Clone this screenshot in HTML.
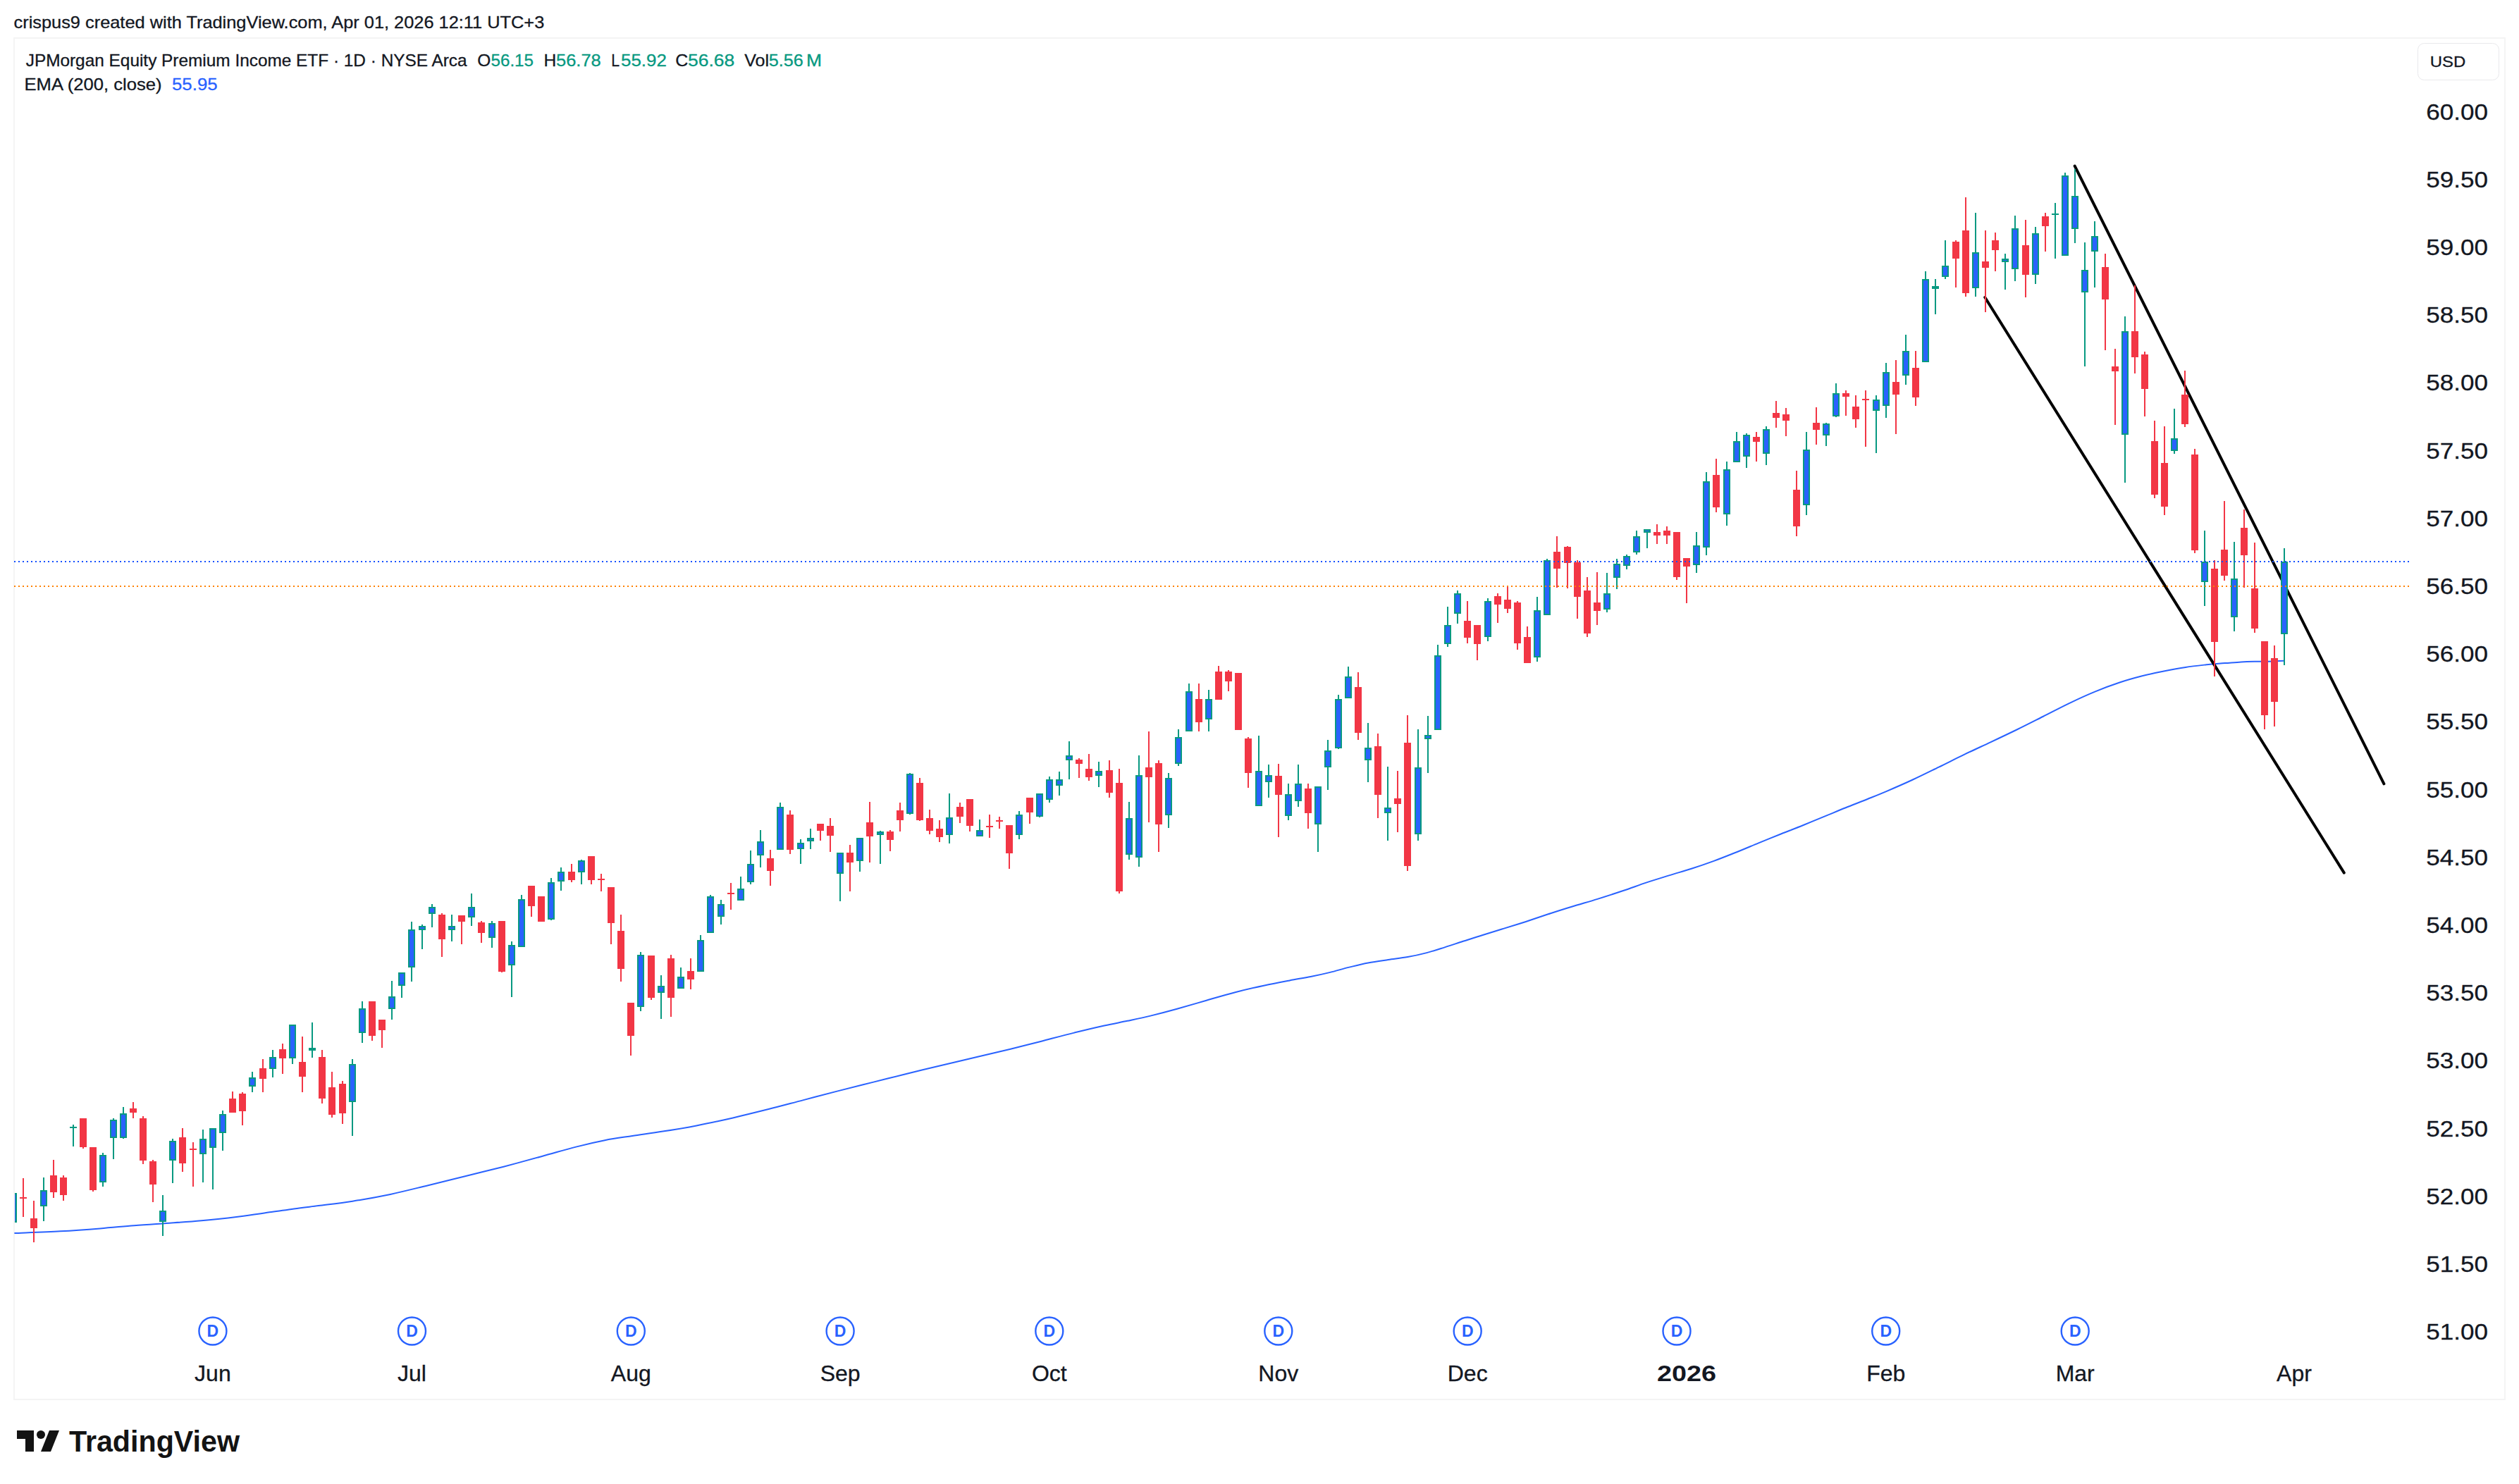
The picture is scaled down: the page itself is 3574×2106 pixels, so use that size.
<!DOCTYPE html>
<html><head><meta charset="utf-8"><title>JEPI chart</title>
<style>
html,body{margin:0;padding:0;background:#fff;}
body{width:3574px;height:2106px;overflow:hidden;}
svg{display:block;}
text{font-family:"Liberation Sans",Arial,sans-serif;color:#131722;fill:currentColor;stroke:currentColor;stroke-width:.3px;}
.b{font-weight:bold;stroke-width:0;}
.g{color:#089981;}
.bl{color:#2962ff;}
</style></head><body>
<svg width="3574" height="2106" viewBox="0 0 3574 2106">
<rect x="0" y="0" width="3574" height="2106" fill="#fff"/>

<rect x="20" y="54" width="3534" height="1932" fill="none" stroke="#f4f4f4" stroke-width="2"/>
<defs><clipPath id="pane"><rect x="21" y="55" width="3390" height="1800"/></clipPath></defs>
<path d="M20.4 1750.1 C31.2 1749.6 65.2 1748.5 85.5 1747.3 C105.7 1746.2 124.5 1744.8 142.0 1743.4 C159.5 1742.1 174.6 1740.4 190.2 1739.2 C205.9 1737.9 219.8 1737.1 235.8 1736.0 C251.7 1734.9 268.5 1733.9 285.8 1732.3 C303.1 1730.8 322.9 1728.5 339.4 1726.5 C355.9 1724.4 372.0 1721.9 385.0 1720.1 C397.9 1718.3 405.9 1716.9 417.1 1715.4 C428.3 1713.9 438.1 1712.8 451.9 1711.1 C465.8 1709.3 483.2 1707.4 500.2 1704.7 C517.2 1702.0 535.9 1698.6 553.8 1694.9 C571.7 1691.1 589.5 1686.5 607.4 1682.2 C625.2 1677.9 643.1 1673.4 660.9 1669.0 C678.8 1664.5 696.6 1660.3 714.5 1655.7 C732.4 1651.0 751.0 1645.9 768.1 1641.2 C785.2 1636.6 802.2 1631.4 817.2 1627.6 C832.2 1623.7 844.8 1620.8 858.1 1618.2 C871.4 1615.6 883.4 1614.1 897.2 1612.0 C910.9 1609.9 925.4 1608.1 940.5 1605.6 C955.7 1603.2 971.6 1600.6 988.2 1597.4 C1004.7 1594.2 1022.6 1590.3 1039.8 1586.4 C1057.0 1582.4 1074.7 1578.0 1091.4 1573.8 C1108.1 1569.6 1123.8 1565.3 1140.0 1561.1 C1156.2 1556.9 1172.2 1552.6 1188.6 1548.4 C1205.0 1544.2 1221.7 1540.0 1238.3 1535.9 C1254.8 1531.7 1271.4 1527.6 1287.9 1523.5 C1304.4 1519.4 1321.0 1515.5 1337.5 1511.5 C1354.0 1507.5 1371.1 1503.6 1387.1 1499.8 C1403.2 1496.0 1418.7 1492.4 1433.8 1488.7 C1448.9 1485.0 1462.4 1481.5 1477.5 1477.7 C1492.5 1473.8 1509.2 1469.3 1524.1 1465.6 C1539.0 1461.9 1554.2 1458.3 1566.8 1455.5 C1579.4 1452.7 1588.6 1451.1 1599.5 1448.8 C1610.5 1446.5 1620.6 1444.5 1632.3 1441.6 C1644.0 1438.8 1656.8 1435.5 1670.0 1431.8 C1683.2 1428.1 1697.8 1423.7 1711.7 1419.7 C1725.6 1415.7 1739.8 1411.5 1753.4 1408.0 C1767.0 1404.5 1780.4 1401.4 1793.1 1398.7 C1805.8 1395.9 1818.6 1393.5 1829.7 1391.4 C1840.8 1389.3 1850.1 1387.9 1859.6 1386.0 C1869.0 1384.1 1877.3 1382.3 1886.2 1380.1 C1895.1 1378.0 1904.1 1375.2 1913.2 1372.9 C1922.3 1370.7 1931.6 1368.3 1941.0 1366.5 C1950.4 1364.7 1960.2 1363.4 1969.6 1362.0 C1978.9 1360.6 1988.2 1359.6 1997.3 1358.0 C2006.5 1356.4 2015.5 1354.4 2024.3 1352.1 C2033.2 1349.8 2041.9 1346.8 2050.5 1344.1 C2059.1 1341.4 2067.2 1338.6 2075.9 1335.8 C2084.6 1332.9 2093.4 1330.2 2102.9 1327.2 C2112.4 1324.2 2122.8 1321.1 2133.1 1317.9 C2143.4 1314.7 2154.3 1311.4 2164.9 1308.0 C2175.5 1304.5 2185.8 1300.9 2196.6 1297.3 C2207.5 1293.8 2218.3 1290.3 2230.0 1286.8 C2241.6 1283.2 2254.3 1279.7 2266.5 1275.9 C2278.7 1272.1 2291.4 1267.9 2303.0 1264.0 C2314.6 1260.1 2325.5 1256.0 2336.3 1252.4 C2347.2 1248.8 2357.5 1245.7 2368.1 1242.4 C2378.7 1239.1 2389.3 1236.2 2399.9 1232.8 C2410.5 1229.4 2421.0 1225.8 2431.6 1221.9 C2442.2 1218.0 2452.8 1213.7 2463.4 1209.5 C2474.0 1205.2 2484.5 1200.7 2495.1 1196.3 C2505.7 1192.0 2516.3 1187.8 2526.9 1183.5 C2537.5 1179.3 2548.0 1175.3 2558.6 1171.0 C2569.2 1166.7 2580.4 1162.0 2590.4 1157.9 C2600.4 1153.8 2609.6 1149.9 2618.7 1146.3 C2627.7 1142.6 2635.0 1139.9 2644.8 1136.0 C2654.5 1132.0 2665.4 1127.7 2676.9 1122.8 C2688.4 1117.9 2701.5 1112.3 2713.8 1106.5 C2726.1 1100.8 2738.5 1094.6 2750.8 1088.6 C2763.1 1082.6 2775.4 1076.3 2787.7 1070.4 C2800.0 1064.5 2812.3 1058.9 2824.6 1053.1 C2836.9 1047.3 2849.2 1041.5 2861.5 1035.5 C2873.8 1029.5 2886.1 1023.2 2898.4 1017.0 C2910.7 1010.8 2923.0 1004.2 2935.3 998.3 C2947.6 992.4 2960.3 986.5 2972.3 981.6 C2984.3 976.6 2996.2 972.2 3007.4 968.5 C3018.5 964.8 3028.9 962.0 3039.3 959.3 C3049.8 956.6 3059.8 954.5 3070.1 952.5 C3080.4 950.4 3090.8 948.4 3100.9 946.9 C3111.0 945.3 3121.1 944.3 3130.5 943.3 C3139.8 942.4 3148.7 941.8 3156.9 941.1 C3165.1 940.5 3172.7 939.8 3179.6 939.4 C3186.6 939.0 3192.3 938.9 3198.7 938.8 C3205.0 938.7 3210.8 938.9 3217.8 938.7 C3224.7 938.5 3236.7 937.9 3240.5 937.7" fill="none" stroke="#2962ff" stroke-width="2" stroke-linejoin="round" stroke-linecap="butt"/>
<line x1="2943.7" y1="235.6" x2="3382.4" y2="1112.3" stroke="#000" stroke-width="4" stroke-linecap="round"/>
<line x1="2816.3" y1="422" x2="3325.8" y2="1238.6" stroke="#000" stroke-width="4" stroke-linecap="round"/>
<g clip-path="url(#pane)" shape-rendering="crispEdges">
<rect x="18" y="1692" width="2" height="43" fill="#089981"/>
<rect x="14" y="1693" width="10" height="42" fill="#089981"/>
<rect x="16" y="1695" width="6" height="38" fill="#2962ff"/>
<rect x="32" y="1672" width="2" height="55" fill="#f23645"/>
<rect x="28" y="1699" width="10" height="2" fill="#f23645"/>
<rect x="47" y="1704" width="2" height="59" fill="#f23645"/>
<rect x="43" y="1729" width="10" height="14" fill="#f23645"/>
<rect x="61" y="1671" width="2" height="62" fill="#089981"/>
<rect x="57" y="1689" width="10" height="23" fill="#089981"/>
<rect x="59" y="1691" width="6" height="19" fill="#2962ff"/>
<rect x="75" y="1646" width="2" height="54" fill="#f23645"/>
<rect x="71" y="1668" width="10" height="24" fill="#f23645"/>
<rect x="89" y="1668" width="2" height="36" fill="#f23645"/>
<rect x="85" y="1671" width="10" height="25" fill="#f23645"/>
<rect x="103" y="1596" width="2" height="31" fill="#089981"/>
<rect x="99" y="1599" width="10" height="2" fill="#089981"/>
<rect x="117" y="1587" width="2" height="43" fill="#f23645"/>
<rect x="113" y="1587" width="10" height="41" fill="#f23645"/>
<rect x="131" y="1628" width="2" height="63" fill="#f23645"/>
<rect x="127" y="1628" width="10" height="61" fill="#f23645"/>
<rect x="145" y="1636" width="2" height="48" fill="#089981"/>
<rect x="141" y="1639" width="10" height="39" fill="#089981"/>
<rect x="143" y="1641" width="6" height="35" fill="#2962ff"/>
<rect x="160" y="1587" width="2" height="58" fill="#089981"/>
<rect x="156" y="1589" width="10" height="26" fill="#089981"/>
<rect x="158" y="1591" width="6" height="22" fill="#2962ff"/>
<rect x="174" y="1571" width="2" height="45" fill="#089981"/>
<rect x="170" y="1580" width="10" height="35" fill="#089981"/>
<rect x="172" y="1582" width="6" height="31" fill="#2962ff"/>
<rect x="188" y="1564" width="2" height="23" fill="#f23645"/>
<rect x="184" y="1573" width="10" height="6" fill="#f23645"/>
<rect x="202" y="1584" width="2" height="68" fill="#f23645"/>
<rect x="198" y="1587" width="10" height="60" fill="#f23645"/>
<rect x="216" y="1646" width="2" height="60" fill="#f23645"/>
<rect x="212" y="1648" width="10" height="33" fill="#f23645"/>
<rect x="230" y="1696" width="2" height="58" fill="#089981"/>
<rect x="226" y="1718" width="10" height="16" fill="#089981"/>
<rect x="228" y="1720" width="6" height="12" fill="#2962ff"/>
<rect x="244" y="1616" width="2" height="63" fill="#089981"/>
<rect x="240" y="1619" width="10" height="28" fill="#089981"/>
<rect x="242" y="1621" width="6" height="24" fill="#2962ff"/>
<rect x="258" y="1601" width="2" height="62" fill="#f23645"/>
<rect x="254" y="1614" width="10" height="37" fill="#f23645"/>
<rect x="273" y="1621" width="2" height="63" fill="#f23645"/>
<rect x="269" y="1630" width="10" height="2" fill="#f23645"/>
<rect x="287" y="1603" width="2" height="75" fill="#089981"/>
<rect x="283" y="1616" width="10" height="22" fill="#089981"/>
<rect x="285" y="1618" width="6" height="18" fill="#2962ff"/>
<rect x="301" y="1601" width="2" height="87" fill="#089981"/>
<rect x="297" y="1601" width="10" height="28" fill="#089981"/>
<rect x="299" y="1603" width="6" height="24" fill="#2962ff"/>
<rect x="315" y="1576" width="2" height="57" fill="#089981"/>
<rect x="311" y="1581" width="10" height="27" fill="#089981"/>
<rect x="313" y="1583" width="6" height="23" fill="#2962ff"/>
<rect x="329" y="1549" width="2" height="30" fill="#f23645"/>
<rect x="325" y="1559" width="10" height="20" fill="#f23645"/>
<rect x="343" y="1550" width="2" height="47" fill="#f23645"/>
<rect x="339" y="1552" width="10" height="25" fill="#f23645"/>
<rect x="357" y="1521" width="2" height="29" fill="#089981"/>
<rect x="353" y="1529" width="10" height="13" fill="#089981"/>
<rect x="355" y="1531" width="6" height="9" fill="#2962ff"/>
<rect x="372" y="1503" width="2" height="47" fill="#f23645"/>
<rect x="368" y="1516" width="10" height="15" fill="#f23645"/>
<rect x="386" y="1490" width="2" height="39" fill="#089981"/>
<rect x="382" y="1500" width="10" height="17" fill="#089981"/>
<rect x="384" y="1502" width="6" height="13" fill="#2962ff"/>
<rect x="400" y="1481" width="2" height="43" fill="#f23645"/>
<rect x="396" y="1489" width="10" height="13" fill="#f23645"/>
<rect x="414" y="1454" width="2" height="56" fill="#089981"/>
<rect x="410" y="1454" width="10" height="48" fill="#089981"/>
<rect x="412" y="1456" width="6" height="44" fill="#2962ff"/>
<rect x="428" y="1471" width="2" height="79" fill="#f23645"/>
<rect x="424" y="1507" width="10" height="21" fill="#f23645"/>
<rect x="442" y="1451" width="2" height="50" fill="#089981"/>
<rect x="438" y="1487" width="10" height="4" fill="#089981"/>
<rect x="456" y="1490" width="2" height="76" fill="#f23645"/>
<rect x="452" y="1500" width="10" height="59" fill="#f23645"/>
<rect x="470" y="1521" width="2" height="65" fill="#f23645"/>
<rect x="466" y="1543" width="10" height="39" fill="#f23645"/>
<rect x="485" y="1534" width="2" height="61" fill="#f23645"/>
<rect x="481" y="1538" width="10" height="42" fill="#f23645"/>
<rect x="499" y="1503" width="2" height="109" fill="#089981"/>
<rect x="495" y="1510" width="10" height="54" fill="#089981"/>
<rect x="497" y="1512" width="6" height="50" fill="#2962ff"/>
<rect x="513" y="1421" width="2" height="59" fill="#089981"/>
<rect x="509" y="1431" width="10" height="35" fill="#089981"/>
<rect x="511" y="1433" width="6" height="31" fill="#2962ff"/>
<rect x="527" y="1421" width="2" height="56" fill="#f23645"/>
<rect x="523" y="1421" width="10" height="49" fill="#f23645"/>
<rect x="541" y="1447" width="2" height="40" fill="#f23645"/>
<rect x="537" y="1447" width="10" height="15" fill="#f23645"/>
<rect x="555" y="1392" width="2" height="55" fill="#089981"/>
<rect x="551" y="1414" width="10" height="18" fill="#089981"/>
<rect x="553" y="1416" width="6" height="14" fill="#2962ff"/>
<rect x="569" y="1380" width="2" height="36" fill="#089981"/>
<rect x="565" y="1380" width="10" height="19" fill="#089981"/>
<rect x="567" y="1382" width="6" height="15" fill="#2962ff"/>
<rect x="583" y="1308" width="2" height="85" fill="#089981"/>
<rect x="579" y="1319" width="10" height="54" fill="#089981"/>
<rect x="581" y="1321" width="6" height="50" fill="#2962ff"/>
<rect x="598" y="1312" width="2" height="35" fill="#089981"/>
<rect x="594" y="1314" width="10" height="6" fill="#089981"/>
<rect x="596" y="1316" width="6" height="2" fill="#2962ff"/>
<rect x="612" y="1283" width="2" height="33" fill="#089981"/>
<rect x="608" y="1287" width="10" height="10" fill="#089981"/>
<rect x="610" y="1289" width="6" height="6" fill="#2962ff"/>
<rect x="626" y="1296" width="2" height="62" fill="#f23645"/>
<rect x="622" y="1298" width="10" height="35" fill="#f23645"/>
<rect x="640" y="1298" width="2" height="38" fill="#089981"/>
<rect x="636" y="1314" width="10" height="6" fill="#089981"/>
<rect x="638" y="1316" width="6" height="2" fill="#2962ff"/>
<rect x="654" y="1299" width="2" height="41" fill="#f23645"/>
<rect x="650" y="1299" width="10" height="9" fill="#f23645"/>
<rect x="668" y="1268" width="2" height="46" fill="#089981"/>
<rect x="664" y="1287" width="10" height="15" fill="#089981"/>
<rect x="666" y="1289" width="6" height="11" fill="#2962ff"/>
<rect x="682" y="1307" width="2" height="31" fill="#f23645"/>
<rect x="678" y="1309" width="10" height="15" fill="#f23645"/>
<rect x="697" y="1307" width="2" height="38" fill="#089981"/>
<rect x="693" y="1310" width="10" height="21" fill="#089981"/>
<rect x="695" y="1312" width="6" height="17" fill="#2962ff"/>
<rect x="711" y="1307" width="2" height="73" fill="#f23645"/>
<rect x="707" y="1307" width="10" height="72" fill="#f23645"/>
<rect x="725" y="1336" width="2" height="79" fill="#089981"/>
<rect x="721" y="1341" width="10" height="29" fill="#089981"/>
<rect x="723" y="1343" width="6" height="25" fill="#2962ff"/>
<rect x="739" y="1270" width="2" height="74" fill="#089981"/>
<rect x="735" y="1276" width="10" height="68" fill="#089981"/>
<rect x="737" y="1278" width="6" height="64" fill="#2962ff"/>
<rect x="753" y="1257" width="2" height="44" fill="#f23645"/>
<rect x="749" y="1257" width="10" height="29" fill="#f23645"/>
<rect x="767" y="1272" width="2" height="36" fill="#f23645"/>
<rect x="763" y="1272" width="10" height="36" fill="#f23645"/>
<rect x="781" y="1246" width="2" height="60" fill="#089981"/>
<rect x="777" y="1252" width="10" height="53" fill="#089981"/>
<rect x="779" y="1254" width="6" height="49" fill="#2962ff"/>
<rect x="795" y="1231" width="2" height="33" fill="#089981"/>
<rect x="791" y="1237" width="10" height="14" fill="#089981"/>
<rect x="793" y="1239" width="6" height="10" fill="#2962ff"/>
<rect x="810" y="1226" width="2" height="26" fill="#f23645"/>
<rect x="806" y="1237" width="10" height="12" fill="#f23645"/>
<rect x="824" y="1220" width="2" height="35" fill="#089981"/>
<rect x="820" y="1221" width="10" height="17" fill="#089981"/>
<rect x="822" y="1223" width="6" height="13" fill="#2962ff"/>
<rect x="838" y="1215" width="2" height="40" fill="#f23645"/>
<rect x="834" y="1215" width="10" height="34" fill="#f23645"/>
<rect x="852" y="1240" width="2" height="25" fill="#f23645"/>
<rect x="848" y="1247" width="10" height="2" fill="#f23645"/>
<rect x="866" y="1259" width="2" height="81" fill="#f23645"/>
<rect x="862" y="1259" width="10" height="51" fill="#f23645"/>
<rect x="880" y="1298" width="2" height="95" fill="#f23645"/>
<rect x="876" y="1321" width="10" height="54" fill="#f23645"/>
<rect x="894" y="1423" width="2" height="75" fill="#f23645"/>
<rect x="890" y="1423" width="10" height="47" fill="#f23645"/>
<rect x="908" y="1351" width="2" height="84" fill="#089981"/>
<rect x="904" y="1355" width="10" height="74" fill="#089981"/>
<rect x="906" y="1357" width="6" height="70" fill="#2962ff"/>
<rect x="923" y="1356" width="2" height="63" fill="#f23645"/>
<rect x="919" y="1356" width="10" height="60" fill="#f23645"/>
<rect x="937" y="1384" width="2" height="62" fill="#089981"/>
<rect x="933" y="1399" width="10" height="10" fill="#089981"/>
<rect x="935" y="1401" width="6" height="6" fill="#2962ff"/>
<rect x="951" y="1355" width="2" height="88" fill="#f23645"/>
<rect x="947" y="1360" width="10" height="56" fill="#f23645"/>
<rect x="965" y="1373" width="2" height="30" fill="#089981"/>
<rect x="961" y="1386" width="10" height="17" fill="#089981"/>
<rect x="963" y="1388" width="6" height="13" fill="#2962ff"/>
<rect x="979" y="1360" width="2" height="44" fill="#f23645"/>
<rect x="975" y="1378" width="10" height="12" fill="#f23645"/>
<rect x="993" y="1327" width="2" height="52" fill="#089981"/>
<rect x="989" y="1334" width="10" height="45" fill="#089981"/>
<rect x="991" y="1336" width="6" height="41" fill="#2962ff"/>
<rect x="1007" y="1270" width="2" height="54" fill="#089981"/>
<rect x="1003" y="1272" width="10" height="52" fill="#089981"/>
<rect x="1005" y="1274" width="6" height="48" fill="#2962ff"/>
<rect x="1022" y="1277" width="2" height="35" fill="#089981"/>
<rect x="1018" y="1283" width="10" height="18" fill="#089981"/>
<rect x="1020" y="1285" width="6" height="14" fill="#2962ff"/>
<rect x="1036" y="1253" width="2" height="38" fill="#f23645"/>
<rect x="1032" y="1267" width="10" height="2" fill="#f23645"/>
<rect x="1050" y="1244" width="2" height="34" fill="#089981"/>
<rect x="1046" y="1261" width="10" height="17" fill="#089981"/>
<rect x="1048" y="1263" width="6" height="13" fill="#2962ff"/>
<rect x="1064" y="1207" width="2" height="48" fill="#089981"/>
<rect x="1060" y="1226" width="10" height="26" fill="#089981"/>
<rect x="1062" y="1228" width="6" height="22" fill="#2962ff"/>
<rect x="1078" y="1178" width="2" height="53" fill="#089981"/>
<rect x="1074" y="1194" width="10" height="20" fill="#089981"/>
<rect x="1076" y="1196" width="6" height="16" fill="#2962ff"/>
<rect x="1092" y="1206" width="2" height="51" fill="#f23645"/>
<rect x="1088" y="1218" width="10" height="18" fill="#f23645"/>
<rect x="1106" y="1139" width="2" height="67" fill="#089981"/>
<rect x="1102" y="1145" width="10" height="61" fill="#089981"/>
<rect x="1104" y="1147" width="6" height="57" fill="#2962ff"/>
<rect x="1120" y="1150" width="2" height="62" fill="#f23645"/>
<rect x="1116" y="1156" width="10" height="50" fill="#f23645"/>
<rect x="1135" y="1191" width="2" height="35" fill="#089981"/>
<rect x="1131" y="1196" width="10" height="9" fill="#089981"/>
<rect x="1133" y="1198" width="6" height="5" fill="#2962ff"/>
<rect x="1149" y="1176" width="2" height="29" fill="#089981"/>
<rect x="1145" y="1189" width="10" height="5" fill="#089981"/>
<rect x="1147" y="1191" width="6" height="1" fill="#2962ff"/>
<rect x="1163" y="1169" width="2" height="24" fill="#f23645"/>
<rect x="1159" y="1169" width="10" height="10" fill="#f23645"/>
<rect x="1177" y="1161" width="2" height="48" fill="#f23645"/>
<rect x="1173" y="1172" width="10" height="14" fill="#f23645"/>
<rect x="1191" y="1210" width="2" height="69" fill="#089981"/>
<rect x="1187" y="1210" width="10" height="30" fill="#089981"/>
<rect x="1189" y="1212" width="6" height="26" fill="#2962ff"/>
<rect x="1205" y="1199" width="2" height="66" fill="#f23645"/>
<rect x="1201" y="1210" width="10" height="14" fill="#f23645"/>
<rect x="1219" y="1189" width="2" height="48" fill="#089981"/>
<rect x="1215" y="1189" width="10" height="33" fill="#089981"/>
<rect x="1217" y="1191" width="6" height="29" fill="#2962ff"/>
<rect x="1233" y="1138" width="2" height="86" fill="#f23645"/>
<rect x="1229" y="1167" width="10" height="20" fill="#f23645"/>
<rect x="1248" y="1179" width="2" height="47" fill="#089981"/>
<rect x="1244" y="1180" width="10" height="5" fill="#089981"/>
<rect x="1246" y="1182" width="6" height="1" fill="#2962ff"/>
<rect x="1262" y="1178" width="2" height="30" fill="#f23645"/>
<rect x="1258" y="1180" width="10" height="12" fill="#f23645"/>
<rect x="1276" y="1139" width="2" height="41" fill="#f23645"/>
<rect x="1272" y="1150" width="10" height="14" fill="#f23645"/>
<rect x="1290" y="1097" width="2" height="59" fill="#089981"/>
<rect x="1286" y="1098" width="10" height="57" fill="#089981"/>
<rect x="1288" y="1100" width="6" height="53" fill="#2962ff"/>
<rect x="1304" y="1104" width="2" height="61" fill="#f23645"/>
<rect x="1300" y="1111" width="10" height="53" fill="#f23645"/>
<rect x="1318" y="1149" width="2" height="35" fill="#f23645"/>
<rect x="1314" y="1161" width="10" height="18" fill="#f23645"/>
<rect x="1332" y="1164" width="2" height="31" fill="#f23645"/>
<rect x="1328" y="1176" width="10" height="12" fill="#f23645"/>
<rect x="1346" y="1126" width="2" height="71" fill="#089981"/>
<rect x="1342" y="1160" width="10" height="25" fill="#089981"/>
<rect x="1344" y="1162" width="6" height="21" fill="#2962ff"/>
<rect x="1361" y="1139" width="2" height="29" fill="#f23645"/>
<rect x="1357" y="1145" width="10" height="14" fill="#f23645"/>
<rect x="1375" y="1134" width="2" height="46" fill="#f23645"/>
<rect x="1371" y="1134" width="10" height="38" fill="#f23645"/>
<rect x="1389" y="1163" width="2" height="24" fill="#089981"/>
<rect x="1385" y="1178" width="10" height="9" fill="#089981"/>
<rect x="1387" y="1180" width="6" height="5" fill="#2962ff"/>
<rect x="1403" y="1156" width="2" height="33" fill="#f23645"/>
<rect x="1399" y="1172" width="10" height="2" fill="#f23645"/>
<rect x="1417" y="1159" width="2" height="17" fill="#f23645"/>
<rect x="1413" y="1164" width="10" height="2" fill="#f23645"/>
<rect x="1431" y="1171" width="2" height="62" fill="#f23645"/>
<rect x="1427" y="1171" width="10" height="40" fill="#f23645"/>
<rect x="1445" y="1151" width="2" height="40" fill="#089981"/>
<rect x="1441" y="1156" width="10" height="29" fill="#089981"/>
<rect x="1443" y="1158" width="6" height="25" fill="#2962ff"/>
<rect x="1460" y="1132" width="2" height="37" fill="#f23645"/>
<rect x="1456" y="1132" width="10" height="21" fill="#f23645"/>
<rect x="1474" y="1126" width="2" height="34" fill="#089981"/>
<rect x="1470" y="1126" width="10" height="33" fill="#089981"/>
<rect x="1472" y="1128" width="6" height="29" fill="#2962ff"/>
<rect x="1488" y="1102" width="2" height="37" fill="#089981"/>
<rect x="1484" y="1106" width="10" height="29" fill="#089981"/>
<rect x="1486" y="1108" width="6" height="25" fill="#2962ff"/>
<rect x="1502" y="1095" width="2" height="34" fill="#089981"/>
<rect x="1498" y="1106" width="10" height="9" fill="#089981"/>
<rect x="1500" y="1108" width="6" height="5" fill="#2962ff"/>
<rect x="1516" y="1052" width="2" height="54" fill="#089981"/>
<rect x="1512" y="1072" width="10" height="7" fill="#089981"/>
<rect x="1514" y="1074" width="6" height="3" fill="#2962ff"/>
<rect x="1530" y="1076" width="2" height="28" fill="#f23645"/>
<rect x="1526" y="1078" width="10" height="6" fill="#f23645"/>
<rect x="1544" y="1070" width="2" height="38" fill="#f23645"/>
<rect x="1540" y="1091" width="10" height="12" fill="#f23645"/>
<rect x="1558" y="1081" width="2" height="36" fill="#089981"/>
<rect x="1554" y="1094" width="10" height="7" fill="#089981"/>
<rect x="1556" y="1096" width="6" height="3" fill="#2962ff"/>
<rect x="1573" y="1079" width="2" height="53" fill="#f23645"/>
<rect x="1569" y="1093" width="10" height="32" fill="#f23645"/>
<rect x="1587" y="1091" width="2" height="177" fill="#f23645"/>
<rect x="1583" y="1111" width="10" height="154" fill="#f23645"/>
<rect x="1601" y="1138" width="2" height="82" fill="#089981"/>
<rect x="1597" y="1161" width="10" height="52" fill="#089981"/>
<rect x="1599" y="1163" width="6" height="48" fill="#2962ff"/>
<rect x="1615" y="1072" width="2" height="158" fill="#089981"/>
<rect x="1611" y="1100" width="10" height="117" fill="#089981"/>
<rect x="1613" y="1102" width="6" height="113" fill="#2962ff"/>
<rect x="1629" y="1038" width="2" height="129" fill="#f23645"/>
<rect x="1625" y="1089" width="10" height="14" fill="#f23645"/>
<rect x="1643" y="1079" width="2" height="130" fill="#f23645"/>
<rect x="1639" y="1083" width="10" height="87" fill="#f23645"/>
<rect x="1657" y="1097" width="2" height="78" fill="#089981"/>
<rect x="1653" y="1104" width="10" height="53" fill="#089981"/>
<rect x="1655" y="1106" width="6" height="49" fill="#2962ff"/>
<rect x="1671" y="1035" width="2" height="52" fill="#089981"/>
<rect x="1667" y="1046" width="10" height="38" fill="#089981"/>
<rect x="1669" y="1048" width="6" height="34" fill="#2962ff"/>
<rect x="1686" y="970" width="2" height="68" fill="#089981"/>
<rect x="1682" y="981" width="10" height="57" fill="#089981"/>
<rect x="1684" y="983" width="6" height="53" fill="#2962ff"/>
<rect x="1700" y="970" width="2" height="68" fill="#f23645"/>
<rect x="1696" y="992" width="10" height="33" fill="#f23645"/>
<rect x="1714" y="979" width="2" height="59" fill="#089981"/>
<rect x="1710" y="992" width="10" height="29" fill="#089981"/>
<rect x="1712" y="994" width="6" height="25" fill="#2962ff"/>
<rect x="1728" y="945" width="2" height="48" fill="#f23645"/>
<rect x="1724" y="953" width="10" height="40" fill="#f23645"/>
<rect x="1742" y="951" width="2" height="30" fill="#f23645"/>
<rect x="1738" y="953" width="10" height="14" fill="#f23645"/>
<rect x="1756" y="955" width="2" height="81" fill="#f23645"/>
<rect x="1752" y="955" width="10" height="81" fill="#f23645"/>
<rect x="1770" y="1046" width="2" height="72" fill="#f23645"/>
<rect x="1766" y="1048" width="10" height="49" fill="#f23645"/>
<rect x="1785" y="1044" width="2" height="100" fill="#089981"/>
<rect x="1781" y="1094" width="10" height="50" fill="#089981"/>
<rect x="1783" y="1096" width="6" height="46" fill="#2962ff"/>
<rect x="1799" y="1085" width="2" height="47" fill="#089981"/>
<rect x="1795" y="1100" width="10" height="10" fill="#089981"/>
<rect x="1797" y="1102" width="6" height="6" fill="#2962ff"/>
<rect x="1813" y="1084" width="2" height="104" fill="#f23645"/>
<rect x="1809" y="1101" width="10" height="27" fill="#f23645"/>
<rect x="1827" y="1112" width="2" height="52" fill="#089981"/>
<rect x="1823" y="1127" width="10" height="31" fill="#089981"/>
<rect x="1825" y="1129" width="6" height="27" fill="#2962ff"/>
<rect x="1841" y="1085" width="2" height="60" fill="#089981"/>
<rect x="1837" y="1112" width="10" height="25" fill="#089981"/>
<rect x="1839" y="1114" width="6" height="21" fill="#2962ff"/>
<rect x="1855" y="1112" width="2" height="64" fill="#f23645"/>
<rect x="1851" y="1119" width="10" height="35" fill="#f23645"/>
<rect x="1869" y="1116" width="2" height="93" fill="#089981"/>
<rect x="1865" y="1116" width="10" height="54" fill="#089981"/>
<rect x="1867" y="1118" width="6" height="50" fill="#2962ff"/>
<rect x="1883" y="1050" width="2" height="71" fill="#089981"/>
<rect x="1879" y="1065" width="10" height="24" fill="#089981"/>
<rect x="1881" y="1067" width="6" height="20" fill="#2962ff"/>
<rect x="1898" y="986" width="2" height="77" fill="#089981"/>
<rect x="1894" y="992" width="10" height="70" fill="#089981"/>
<rect x="1896" y="994" width="6" height="66" fill="#2962ff"/>
<rect x="1912" y="946" width="2" height="45" fill="#089981"/>
<rect x="1908" y="960" width="10" height="31" fill="#089981"/>
<rect x="1910" y="962" width="6" height="27" fill="#2962ff"/>
<rect x="1926" y="954" width="2" height="96" fill="#f23645"/>
<rect x="1922" y="975" width="10" height="65" fill="#f23645"/>
<rect x="1940" y="1026" width="2" height="84" fill="#089981"/>
<rect x="1936" y="1061" width="10" height="18" fill="#089981"/>
<rect x="1938" y="1063" width="6" height="14" fill="#2962ff"/>
<rect x="1954" y="1041" width="2" height="120" fill="#f23645"/>
<rect x="1950" y="1059" width="10" height="69" fill="#f23645"/>
<rect x="1968" y="1088" width="2" height="105" fill="#089981"/>
<rect x="1964" y="1146" width="10" height="8" fill="#089981"/>
<rect x="1966" y="1148" width="6" height="4" fill="#2962ff"/>
<rect x="1982" y="1094" width="2" height="87" fill="#f23645"/>
<rect x="1978" y="1133" width="10" height="8" fill="#f23645"/>
<rect x="1996" y="1015" width="2" height="221" fill="#f23645"/>
<rect x="1992" y="1054" width="10" height="175" fill="#f23645"/>
<rect x="2011" y="1035" width="2" height="158" fill="#089981"/>
<rect x="2007" y="1089" width="10" height="95" fill="#089981"/>
<rect x="2009" y="1091" width="6" height="91" fill="#2962ff"/>
<rect x="2025" y="1016" width="2" height="81" fill="#089981"/>
<rect x="2021" y="1043" width="10" height="6" fill="#089981"/>
<rect x="2023" y="1045" width="6" height="2" fill="#2962ff"/>
<rect x="2039" y="915" width="2" height="121" fill="#089981"/>
<rect x="2035" y="930" width="10" height="106" fill="#089981"/>
<rect x="2037" y="932" width="6" height="102" fill="#2962ff"/>
<rect x="2053" y="861" width="2" height="57" fill="#089981"/>
<rect x="2049" y="887" width="10" height="27" fill="#089981"/>
<rect x="2051" y="889" width="6" height="23" fill="#2962ff"/>
<rect x="2067" y="838" width="2" height="47" fill="#089981"/>
<rect x="2063" y="842" width="10" height="29" fill="#089981"/>
<rect x="2065" y="844" width="6" height="25" fill="#2962ff"/>
<rect x="2081" y="853" width="2" height="60" fill="#f23645"/>
<rect x="2077" y="881" width="10" height="24" fill="#f23645"/>
<rect x="2095" y="887" width="2" height="50" fill="#f23645"/>
<rect x="2091" y="887" width="10" height="27" fill="#f23645"/>
<rect x="2110" y="849" width="2" height="61" fill="#089981"/>
<rect x="2106" y="853" width="10" height="51" fill="#089981"/>
<rect x="2108" y="855" width="6" height="47" fill="#2962ff"/>
<rect x="2124" y="842" width="2" height="42" fill="#f23645"/>
<rect x="2120" y="846" width="10" height="12" fill="#f23645"/>
<rect x="2138" y="832" width="2" height="38" fill="#f23645"/>
<rect x="2134" y="851" width="10" height="13" fill="#f23645"/>
<rect x="2152" y="853" width="2" height="69" fill="#f23645"/>
<rect x="2148" y="855" width="10" height="58" fill="#f23645"/>
<rect x="2166" y="889" width="2" height="52" fill="#f23645"/>
<rect x="2162" y="904" width="10" height="37" fill="#f23645"/>
<rect x="2180" y="847" width="2" height="92" fill="#089981"/>
<rect x="2176" y="866" width="10" height="67" fill="#089981"/>
<rect x="2178" y="868" width="6" height="63" fill="#2962ff"/>
<rect x="2194" y="793" width="2" height="80" fill="#089981"/>
<rect x="2190" y="795" width="10" height="78" fill="#089981"/>
<rect x="2192" y="797" width="6" height="74" fill="#2962ff"/>
<rect x="2208" y="761" width="2" height="73" fill="#f23645"/>
<rect x="2204" y="783" width="10" height="24" fill="#f23645"/>
<rect x="2223" y="775" width="2" height="60" fill="#f23645"/>
<rect x="2219" y="776" width="10" height="23" fill="#f23645"/>
<rect x="2237" y="795" width="2" height="83" fill="#f23645"/>
<rect x="2233" y="798" width="10" height="49" fill="#f23645"/>
<rect x="2251" y="819" width="2" height="85" fill="#f23645"/>
<rect x="2247" y="838" width="10" height="61" fill="#f23645"/>
<rect x="2265" y="812" width="2" height="75" fill="#f23645"/>
<rect x="2261" y="855" width="10" height="12" fill="#f23645"/>
<rect x="2279" y="813" width="2" height="56" fill="#089981"/>
<rect x="2275" y="842" width="10" height="23" fill="#089981"/>
<rect x="2277" y="844" width="6" height="19" fill="#2962ff"/>
<rect x="2293" y="793" width="2" height="43" fill="#089981"/>
<rect x="2289" y="800" width="10" height="20" fill="#089981"/>
<rect x="2291" y="802" width="6" height="16" fill="#2962ff"/>
<rect x="2307" y="787" width="2" height="21" fill="#089981"/>
<rect x="2303" y="789" width="10" height="14" fill="#089981"/>
<rect x="2305" y="791" width="6" height="10" fill="#2962ff"/>
<rect x="2321" y="753" width="2" height="34" fill="#089981"/>
<rect x="2317" y="761" width="10" height="23" fill="#089981"/>
<rect x="2319" y="763" width="6" height="19" fill="#2962ff"/>
<rect x="2336" y="751" width="2" height="27" fill="#089981"/>
<rect x="2332" y="751" width="10" height="5" fill="#089981"/>
<rect x="2334" y="753" width="6" height="1" fill="#2962ff"/>
<rect x="2350" y="744" width="2" height="28" fill="#f23645"/>
<rect x="2346" y="755" width="10" height="5" fill="#f23645"/>
<rect x="2364" y="747" width="2" height="25" fill="#f23645"/>
<rect x="2360" y="753" width="10" height="7" fill="#f23645"/>
<rect x="2378" y="755" width="2" height="68" fill="#f23645"/>
<rect x="2374" y="755" width="10" height="64" fill="#f23645"/>
<rect x="2392" y="792" width="2" height="64" fill="#f23645"/>
<rect x="2388" y="792" width="10" height="12" fill="#f23645"/>
<rect x="2406" y="755" width="2" height="58" fill="#089981"/>
<rect x="2402" y="774" width="10" height="28" fill="#089981"/>
<rect x="2404" y="776" width="6" height="24" fill="#2962ff"/>
<rect x="2420" y="670" width="2" height="118" fill="#089981"/>
<rect x="2416" y="683" width="10" height="94" fill="#089981"/>
<rect x="2418" y="685" width="6" height="90" fill="#2962ff"/>
<rect x="2434" y="651" width="2" height="76" fill="#f23645"/>
<rect x="2430" y="674" width="10" height="46" fill="#f23645"/>
<rect x="2449" y="655" width="2" height="91" fill="#089981"/>
<rect x="2445" y="666" width="10" height="64" fill="#089981"/>
<rect x="2447" y="668" width="6" height="60" fill="#2962ff"/>
<rect x="2463" y="613" width="2" height="43" fill="#089981"/>
<rect x="2459" y="626" width="10" height="30" fill="#089981"/>
<rect x="2461" y="628" width="6" height="26" fill="#2962ff"/>
<rect x="2477" y="615" width="2" height="49" fill="#089981"/>
<rect x="2473" y="617" width="10" height="31" fill="#089981"/>
<rect x="2475" y="619" width="6" height="27" fill="#2962ff"/>
<rect x="2491" y="613" width="2" height="42" fill="#f23645"/>
<rect x="2487" y="620" width="10" height="7" fill="#f23645"/>
<rect x="2505" y="605" width="2" height="55" fill="#089981"/>
<rect x="2501" y="609" width="10" height="35" fill="#089981"/>
<rect x="2503" y="611" width="6" height="31" fill="#2962ff"/>
<rect x="2519" y="569" width="2" height="38" fill="#f23645"/>
<rect x="2515" y="586" width="10" height="7" fill="#f23645"/>
<rect x="2533" y="579" width="2" height="40" fill="#f23645"/>
<rect x="2529" y="588" width="10" height="9" fill="#f23645"/>
<rect x="2548" y="668" width="2" height="93" fill="#f23645"/>
<rect x="2544" y="695" width="10" height="52" fill="#f23645"/>
<rect x="2562" y="613" width="2" height="118" fill="#089981"/>
<rect x="2558" y="638" width="10" height="79" fill="#089981"/>
<rect x="2560" y="640" width="6" height="75" fill="#2962ff"/>
<rect x="2576" y="578" width="2" height="53" fill="#f23645"/>
<rect x="2572" y="600" width="10" height="10" fill="#f23645"/>
<rect x="2590" y="600" width="2" height="33" fill="#089981"/>
<rect x="2586" y="601" width="10" height="17" fill="#089981"/>
<rect x="2588" y="603" width="6" height="13" fill="#2962ff"/>
<rect x="2604" y="544" width="2" height="48" fill="#089981"/>
<rect x="2600" y="558" width="10" height="33" fill="#089981"/>
<rect x="2602" y="560" width="6" height="29" fill="#2962ff"/>
<rect x="2618" y="554" width="2" height="36" fill="#f23645"/>
<rect x="2614" y="558" width="10" height="5" fill="#f23645"/>
<rect x="2632" y="561" width="2" height="46" fill="#f23645"/>
<rect x="2628" y="577" width="10" height="18" fill="#f23645"/>
<rect x="2646" y="554" width="2" height="80" fill="#f23645"/>
<rect x="2642" y="566" width="10" height="2" fill="#f23645"/>
<rect x="2661" y="561" width="2" height="82" fill="#089981"/>
<rect x="2657" y="567" width="10" height="16" fill="#089981"/>
<rect x="2659" y="569" width="6" height="12" fill="#2962ff"/>
<rect x="2675" y="515" width="2" height="78" fill="#089981"/>
<rect x="2671" y="528" width="10" height="48" fill="#089981"/>
<rect x="2673" y="530" width="6" height="44" fill="#2962ff"/>
<rect x="2689" y="511" width="2" height="105" fill="#f23645"/>
<rect x="2685" y="542" width="10" height="18" fill="#f23645"/>
<rect x="2703" y="475" width="2" height="71" fill="#089981"/>
<rect x="2699" y="498" width="10" height="35" fill="#089981"/>
<rect x="2701" y="500" width="6" height="31" fill="#2962ff"/>
<rect x="2717" y="498" width="2" height="78" fill="#f23645"/>
<rect x="2713" y="522" width="10" height="42" fill="#f23645"/>
<rect x="2731" y="385" width="2" height="129" fill="#089981"/>
<rect x="2727" y="396" width="10" height="118" fill="#089981"/>
<rect x="2729" y="398" width="6" height="114" fill="#2962ff"/>
<rect x="2745" y="396" width="2" height="50" fill="#089981"/>
<rect x="2741" y="406" width="10" height="4" fill="#089981"/>
<rect x="2759" y="341" width="2" height="55" fill="#089981"/>
<rect x="2755" y="377" width="10" height="16" fill="#089981"/>
<rect x="2757" y="379" width="6" height="12" fill="#2962ff"/>
<rect x="2774" y="341" width="2" height="67" fill="#f23645"/>
<rect x="2770" y="343" width="10" height="24" fill="#f23645"/>
<rect x="2788" y="280" width="2" height="141" fill="#f23645"/>
<rect x="2784" y="327" width="10" height="89" fill="#f23645"/>
<rect x="2802" y="302" width="2" height="119" fill="#089981"/>
<rect x="2798" y="358" width="10" height="51" fill="#089981"/>
<rect x="2800" y="360" width="6" height="47" fill="#2962ff"/>
<rect x="2816" y="327" width="2" height="116" fill="#f23645"/>
<rect x="2812" y="371" width="10" height="9" fill="#f23645"/>
<rect x="2830" y="330" width="2" height="55" fill="#f23645"/>
<rect x="2826" y="341" width="10" height="14" fill="#f23645"/>
<rect x="2844" y="360" width="2" height="51" fill="#089981"/>
<rect x="2840" y="367" width="10" height="5" fill="#089981"/>
<rect x="2842" y="369" width="6" height="1" fill="#2962ff"/>
<rect x="2858" y="306" width="2" height="93" fill="#089981"/>
<rect x="2854" y="324" width="10" height="58" fill="#089981"/>
<rect x="2856" y="326" width="6" height="54" fill="#2962ff"/>
<rect x="2873" y="312" width="2" height="110" fill="#f23645"/>
<rect x="2869" y="348" width="10" height="42" fill="#f23645"/>
<rect x="2887" y="322" width="2" height="81" fill="#089981"/>
<rect x="2883" y="331" width="10" height="59" fill="#089981"/>
<rect x="2885" y="333" width="6" height="55" fill="#2962ff"/>
<rect x="2901" y="302" width="2" height="55" fill="#f23645"/>
<rect x="2897" y="307" width="10" height="14" fill="#f23645"/>
<rect x="2915" y="288" width="2" height="79" fill="#089981"/>
<rect x="2911" y="303" width="10" height="2" fill="#089981"/>
<rect x="2929" y="245" width="2" height="118" fill="#089981"/>
<rect x="2925" y="249" width="10" height="114" fill="#089981"/>
<rect x="2927" y="251" width="6" height="110" fill="#2962ff"/>
<rect x="2943" y="240" width="2" height="105" fill="#089981"/>
<rect x="2939" y="278" width="10" height="47" fill="#089981"/>
<rect x="2941" y="280" width="6" height="43" fill="#2962ff"/>
<rect x="2957" y="344" width="2" height="176" fill="#089981"/>
<rect x="2953" y="383" width="10" height="32" fill="#089981"/>
<rect x="2955" y="385" width="6" height="28" fill="#2962ff"/>
<rect x="2971" y="314" width="2" height="94" fill="#089981"/>
<rect x="2967" y="335" width="10" height="22" fill="#089981"/>
<rect x="2969" y="337" width="6" height="18" fill="#2962ff"/>
<rect x="2986" y="360" width="2" height="137" fill="#f23645"/>
<rect x="2982" y="379" width="10" height="46" fill="#f23645"/>
<rect x="3000" y="495" width="2" height="108" fill="#f23645"/>
<rect x="2996" y="520" width="10" height="7" fill="#f23645"/>
<rect x="3014" y="449" width="2" height="236" fill="#089981"/>
<rect x="3010" y="470" width="10" height="147" fill="#089981"/>
<rect x="3012" y="472" width="6" height="143" fill="#2962ff"/>
<rect x="3028" y="405" width="2" height="125" fill="#f23645"/>
<rect x="3024" y="470" width="10" height="37" fill="#f23645"/>
<rect x="3042" y="499" width="2" height="92" fill="#f23645"/>
<rect x="3038" y="503" width="10" height="49" fill="#f23645"/>
<rect x="3056" y="597" width="2" height="110" fill="#f23645"/>
<rect x="3052" y="626" width="10" height="76" fill="#f23645"/>
<rect x="3070" y="605" width="2" height="126" fill="#f23645"/>
<rect x="3066" y="657" width="10" height="62" fill="#f23645"/>
<rect x="3084" y="580" width="2" height="64" fill="#089981"/>
<rect x="3080" y="622" width="10" height="18" fill="#089981"/>
<rect x="3082" y="624" width="6" height="14" fill="#2962ff"/>
<rect x="3099" y="526" width="2" height="80" fill="#f23645"/>
<rect x="3095" y="560" width="10" height="42" fill="#f23645"/>
<rect x="3113" y="637" width="2" height="148" fill="#f23645"/>
<rect x="3109" y="645" width="10" height="136" fill="#f23645"/>
<rect x="3127" y="753" width="2" height="107" fill="#089981"/>
<rect x="3123" y="797" width="10" height="29" fill="#089981"/>
<rect x="3125" y="799" width="6" height="25" fill="#2962ff"/>
<rect x="3141" y="795" width="2" height="165" fill="#f23645"/>
<rect x="3137" y="807" width="10" height="104" fill="#f23645"/>
<rect x="3155" y="711" width="2" height="113" fill="#f23645"/>
<rect x="3151" y="780" width="10" height="37" fill="#f23645"/>
<rect x="3169" y="769" width="2" height="127" fill="#089981"/>
<rect x="3165" y="821" width="10" height="55" fill="#089981"/>
<rect x="3167" y="823" width="6" height="51" fill="#2962ff"/>
<rect x="3183" y="723" width="2" height="111" fill="#f23645"/>
<rect x="3179" y="749" width="10" height="39" fill="#f23645"/>
<rect x="3198" y="770" width="2" height="128" fill="#f23645"/>
<rect x="3194" y="835" width="10" height="57" fill="#f23645"/>
<rect x="3212" y="910" width="2" height="125" fill="#f23645"/>
<rect x="3208" y="910" width="10" height="105" fill="#f23645"/>
<rect x="3226" y="916" width="2" height="115" fill="#f23645"/>
<rect x="3222" y="934" width="10" height="62" fill="#f23645"/>
<rect x="3240" y="778" width="2" height="166" fill="#089981"/>
<rect x="3236" y="797" width="10" height="103" fill="#089981"/>
<rect x="3238" y="799" width="6" height="99" fill="#2962ff"/>
</g>
<line x1="20" y1="797" x2="3418" y2="797" stroke="#1450ff" stroke-width="2" stroke-dasharray="2 4" shape-rendering="crispEdges"/>
<line x1="20" y1="832" x2="3418" y2="832" stroke="#ff8000" stroke-width="2" stroke-dasharray="2 4" shape-rendering="crispEdges"/>
<text x="19.5" y="39.6" font-size="23.6" textLength="752.8" lengthAdjust="spacingAndGlyphs">crispus9 created with TradingView.com, Apr 01, 2026 12:11 UTC+3</text>
<text x="36.7" y="93.5" font-size="24" textLength="625.9" lengthAdjust="spacingAndGlyphs">JPMorgan Equity Premium Income ETF · 1D · NYSE Arca</text>
<text x="677.3" y="93.5" font-size="24" textLength="19" lengthAdjust="spacingAndGlyphs">O</text>
<text x="696.5" y="93.5" font-size="24" textLength="60.5" lengthAdjust="spacingAndGlyphs" class="g">56.15</text>
<text x="771.5" y="93.5" font-size="24" textLength="17.8" lengthAdjust="spacingAndGlyphs">H</text>
<text x="789" y="93.5" font-size="24" textLength="63.8" lengthAdjust="spacingAndGlyphs" class="g">56.78</text>
<text x="867.3" y="93.5" font-size="24" textLength="11.8" lengthAdjust="spacingAndGlyphs">L</text>
<text x="881" y="93.5" font-size="24" textLength="64.8" lengthAdjust="spacingAndGlyphs" class="g">55.92</text>
<text x="958.2" y="93.5" font-size="24" textLength="18" lengthAdjust="spacingAndGlyphs">C</text>
<text x="976" y="93.5" font-size="24" textLength="66.3" lengthAdjust="spacingAndGlyphs" class="g">56.68</text>
<text x="1056.2" y="93.5" font-size="24" textLength="34.8" lengthAdjust="spacingAndGlyphs">Vol</text>
<text x="1090.7" y="93.5" font-size="24" textLength="49" lengthAdjust="spacingAndGlyphs" class="g">5.56</text>
<text x="1144" y="93.5" font-size="24" textLength="22" lengthAdjust="spacingAndGlyphs" class="g">M</text>
<text x="34.5" y="127.5" font-size="24" textLength="195" lengthAdjust="spacingAndGlyphs">EMA (200, close)</text>
<text x="244" y="127.5" font-size="24" textLength="64.6" lengthAdjust="spacingAndGlyphs" class="bl">55.95</text>
<rect x="3430.5" y="61.5" width="115" height="52" rx="9" ry="9" fill="#fff" stroke="#e9e9ec" stroke-width="1"/>
<text x="3447.8" y="95.3" font-size="22" textLength="50.5" lengthAdjust="spacingAndGlyphs">USD</text>
<text x="3442.3" y="169.7" font-size="31.5" textLength="87.8" lengthAdjust="spacingAndGlyphs">60.00</text>
<text x="3442.3" y="265.9" font-size="31.5" textLength="87.8" lengthAdjust="spacingAndGlyphs">59.50</text>
<text x="3442.3" y="362.1" font-size="31.5" textLength="87.8" lengthAdjust="spacingAndGlyphs">59.00</text>
<text x="3442.3" y="458.3" font-size="31.5" textLength="87.8" lengthAdjust="spacingAndGlyphs">58.50</text>
<text x="3442.3" y="554.4" font-size="31.5" textLength="87.8" lengthAdjust="spacingAndGlyphs">58.00</text>
<text x="3442.3" y="650.6" font-size="31.5" textLength="87.8" lengthAdjust="spacingAndGlyphs">57.50</text>
<text x="3442.3" y="746.8" font-size="31.5" textLength="87.8" lengthAdjust="spacingAndGlyphs">57.00</text>
<text x="3442.3" y="843.0" font-size="31.5" textLength="87.8" lengthAdjust="spacingAndGlyphs">56.50</text>
<text x="3442.3" y="939.2" font-size="31.5" textLength="87.8" lengthAdjust="spacingAndGlyphs">56.00</text>
<text x="3442.3" y="1035.4" font-size="31.5" textLength="87.8" lengthAdjust="spacingAndGlyphs">55.50</text>
<text x="3442.3" y="1131.5" font-size="31.5" textLength="87.8" lengthAdjust="spacingAndGlyphs">55.00</text>
<text x="3442.3" y="1227.7" font-size="31.5" textLength="87.8" lengthAdjust="spacingAndGlyphs">54.50</text>
<text x="3442.3" y="1323.9" font-size="31.5" textLength="87.8" lengthAdjust="spacingAndGlyphs">54.00</text>
<text x="3442.3" y="1420.1" font-size="31.5" textLength="87.8" lengthAdjust="spacingAndGlyphs">53.50</text>
<text x="3442.3" y="1516.3" font-size="31.5" textLength="87.8" lengthAdjust="spacingAndGlyphs">53.00</text>
<text x="3442.3" y="1612.5" font-size="31.5" textLength="87.8" lengthAdjust="spacingAndGlyphs">52.50</text>
<text x="3442.3" y="1708.7" font-size="31.5" textLength="87.8" lengthAdjust="spacingAndGlyphs">52.00</text>
<text x="3442.3" y="1804.8" font-size="31.5" textLength="87.8" lengthAdjust="spacingAndGlyphs">51.50</text>
<text x="3442.3" y="1901.0" font-size="31.5" textLength="87.8" lengthAdjust="spacingAndGlyphs">51.00</text>
<text x="301.9" y="1959.7" font-size="32" text-anchor="middle">Jun</text>
<text x="584.5" y="1959.7" font-size="32" text-anchor="middle">Jul</text>
<text x="895.3" y="1959.7" font-size="32" text-anchor="middle">Aug</text>
<text x="1192.1" y="1959.7" font-size="32" text-anchor="middle">Sep</text>
<text x="1488.8" y="1959.7" font-size="32" text-anchor="middle">Oct</text>
<text x="1813.8" y="1959.7" font-size="32" text-anchor="middle">Nov</text>
<text x="2082.2" y="1959.7" font-size="32" text-anchor="middle">Dec</text>
<text x="2351.1" y="1959.7" font-size="32" textLength="84" lengthAdjust="spacingAndGlyphs" class="b">2026</text>
<text x="2675.7" y="1959.7" font-size="32" text-anchor="middle">Feb</text>
<text x="2944.2" y="1959.7" font-size="32" text-anchor="middle">Mar</text>
<text x="3255.0" y="1959.7" font-size="32" text-anchor="middle">Apr</text>
<circle cx="301.9" cy="1889" r="19.5" fill="#fff" stroke="#2962ff" stroke-width="2.4"/>
<text x="301.9" y="1896.6" font-size="23" class="b bl" text-anchor="middle">D</text>
<circle cx="584.5" cy="1889" r="19.5" fill="#fff" stroke="#2962ff" stroke-width="2.4"/>
<text x="584.5" y="1896.6" font-size="23" class="b bl" text-anchor="middle">D</text>
<circle cx="895.3" cy="1889" r="19.5" fill="#fff" stroke="#2962ff" stroke-width="2.4"/>
<text x="895.3" y="1896.6" font-size="23" class="b bl" text-anchor="middle">D</text>
<circle cx="1192.1" cy="1889" r="19.5" fill="#fff" stroke="#2962ff" stroke-width="2.4"/>
<text x="1192.1" y="1896.6" font-size="23" class="b bl" text-anchor="middle">D</text>
<circle cx="1488.8" cy="1889" r="19.5" fill="#fff" stroke="#2962ff" stroke-width="2.4"/>
<text x="1488.8" y="1896.6" font-size="23" class="b bl" text-anchor="middle">D</text>
<circle cx="1813.8" cy="1889" r="19.5" fill="#fff" stroke="#2962ff" stroke-width="2.4"/>
<text x="1813.8" y="1896.6" font-size="23" class="b bl" text-anchor="middle">D</text>
<circle cx="2082.2" cy="1889" r="19.5" fill="#fff" stroke="#2962ff" stroke-width="2.4"/>
<text x="2082.2" y="1896.6" font-size="23" class="b bl" text-anchor="middle">D</text>
<circle cx="2379.0" cy="1889" r="19.5" fill="#fff" stroke="#2962ff" stroke-width="2.4"/>
<text x="2379.0" y="1896.6" font-size="23" class="b bl" text-anchor="middle">D</text>
<circle cx="2675.7" cy="1889" r="19.5" fill="#fff" stroke="#2962ff" stroke-width="2.4"/>
<text x="2675.7" y="1896.6" font-size="23" class="b bl" text-anchor="middle">D</text>
<circle cx="2944.2" cy="1889" r="19.5" fill="#fff" stroke="#2962ff" stroke-width="2.4"/>
<text x="2944.2" y="1896.6" font-size="23" class="b bl" text-anchor="middle">D</text>
<g fill="#131313"><path d="M24 2030 H48 V2060 H36 V2042 H24 Z"/><circle cx="58" cy="2036" r="6"/><path d="M70 2030 H84 L72 2060 H58 Z"/></g>
<text x="98" y="2060" font-size="42" class="b" textLength="242" lengthAdjust="spacingAndGlyphs" style="color:#131313">TradingView</text>
</svg></body></html>
